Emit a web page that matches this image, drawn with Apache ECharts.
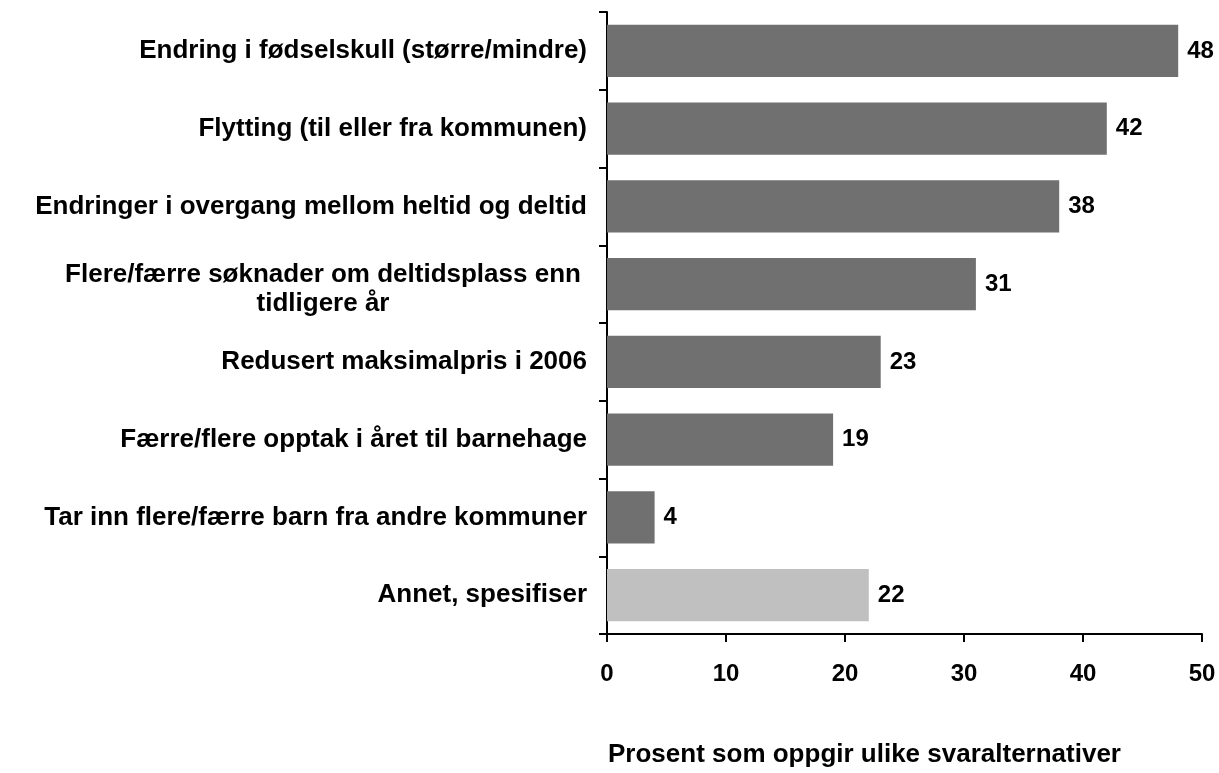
<!DOCTYPE html>
<html>
<head>
<meta charset="utf-8">
<script src="https://cdn.jsdelivr.net/npm/echarts@6/dist/echarts.min.js"></script>
<style>
html,body{margin:0;padding:0;background:#fff;}
#main{width:1219px;height:773px;}
</style>
</head>
<body>
<div id="main"></div>
<script>
// kategorier, ovenfra og ned
var categories = [
    "Endring i fødselskull (større/mindre)",
    "Flytting (til eller fra kommunen)",
    "Endringer i overgang mellom heltid og deltid",
    "Flere/færre søknader om deltidsplass enn\ntidligere år",
    "Redusert maksimalpris i 2006",
    "Færre/flere opptak i året til barnehage",
    "Tar inn flere/færre barn fra andre kommuner",
    "Annet, spesifiser"
];
var values = [48, 42, 38, 31, 23, 19, 4, 22];
var barColors = ["#707070", "#707070", "#707070", "#707070", "#707070", "#707070", "#707070", "#c0c0c0"];
var xTicks = [0, 10, 20, 30, 40, 50];
var axisTitle = "Prosent som oppgir ulike svaralternativer";

var font = "'Liberation Sans', Arial, sans-serif";
var chart = echarts.init(document.getElementById("main"));

var option = {
    animation: false,
    grid: {left: 607, right: 17, top: 12, bottom: 135},
    xAxis: {
        type: 'value',
        min: xTicks[0],
        max: xTicks[xTicks.length - 1],
        interval: 10,
        name: axisTitle,
        nameLocation: 'middle',
        nameGap: 108,
        nameTextStyle: {color: '#000', fontFamily: font, fontWeight: 'bold', fontSize: 26, padding: [0, 80, 0, 0]},
        axisLine: {show: true, lineStyle: {color: '#000', width: 2}},
        axisTick: {show: true, length: 8, lineStyle: {color: '#000', width: 2}},
        axisLabel: {color: '#000', fontFamily: font, fontWeight: 'bold', fontSize: 24, margin: 28},
        splitLine: {show: false}
    },
    yAxis: {
        type: 'category',
        inverse: true,
        data: categories,
        axisLine: {show: true, lineStyle: {color: '#000', width: 2}},
        axisTick: {show: true, length: 8, lineStyle: {color: '#000', width: 2}},
        axisLabel: {
            color: '#000', fontFamily: font, fontWeight: 'bold', fontSize: 26,
            margin: 20, lineHeight: 32,
            formatter: function(v){
                if(v.indexOf("\n") < 0) return v;
                var p = v.split("\n");
                return "{a|" + p[0] + "}\n{c|" + p[1] + "}";
            },
            rich: {
                a: {width: 528, align: 'center', verticalAlign: 'bottom', color: '#000', fontFamily: font, fontWeight: 'bold', fontSize: 26, lineHeight: 40},
                c: {width: 528, align: 'center', color: '#000', fontFamily: font, fontWeight: 'bold', fontSize: 26, lineHeight: 32}
            }
        }
    },
    series: [{
        type: 'bar',
        barCategoryGap: '33%',
        data: values.map(function(v, i){
            return {value: v, itemStyle: {color: barColors[i]}};
        }),
        label: {
            show: true, position: 'right', distance: 9,
            color: '#000', fontFamily: font, fontWeight: 'bold', fontSize: 24
        }
    }]
};
chart.setOption(option);
</script>
</body>
</html>
